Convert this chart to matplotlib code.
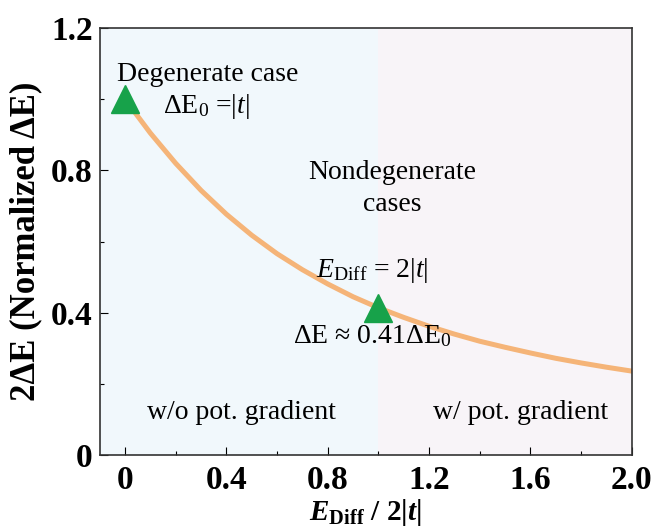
import matplotlib
matplotlib.use("Agg")
import matplotlib.pyplot as plt
from matplotlib.ticker import MultipleLocator

# ratio E_Diff / 2|t| and normalized gap
x_ratio = [0.0, 0.1, 0.2, 0.3, 0.4, 0.5, 0.6, 0.7, 0.8, 0.9, 1.0,
           1.1, 1.2, 1.3, 1.4, 1.5, 1.6, 1.7, 1.8, 1.9, 2.0]
gap_norm = [1.000, 0.905, 0.820, 0.744, 0.677, 0.618, 0.566, 0.521, 0.481, 0.445, 0.414,
            0.387, 0.362, 0.340, 0.320, 0.303, 0.287, 0.272, 0.259, 0.247, 0.236]

# highlighted points
mark_x = [0.0, 1.0]
mark_y = [1.0, 0.414]

# shaded regions
region_edges = [-0.1, 1.0, 2.0]
region_colors = ["#f1f8fc", "#f8f4f8"]

plt.rcParams["font.family"] = ["Liberation Serif", "DejaVu Serif"]
plt.rcParams["mathtext.fontset"] = "custom"
plt.rcParams["mathtext.rm"] = "Liberation Serif"
plt.rcParams["mathtext.it"] = "Liberation Serif:italic"
plt.rcParams["mathtext.bf"] = "Liberation Serif:bold"
plt.rcParams["mathtext.bfit"] = "Liberation Serif:bold:italic"

fig = plt.figure(figsize=(6.56, 5.31), dpi=100)
ax = fig.add_axes([0.152, 0.143, 0.811, 0.804])

for i, c in enumerate(region_colors):
    ax.axvspan(region_edges[i], region_edges[i + 1], color=c, lw=0, zorder=0)

ax.plot(x_ratio, gap_norm, color="#f5b478", lw=3.6, zorder=2)
ax.plot(mark_x, mark_y, ls="none", marker="^", ms=20, color="#17a24a",
        mec="#17a24a", zorder=3)

ax.set_xlim(-0.1, 2.0)
ax.set_ylim(0, 1.2)
ax.xaxis.set_minor_locator(MultipleLocator(0.2))
ax.yaxis.set_minor_locator(MultipleLocator(0.2))
ax.set_xticks([0, 0.4, 0.8, 1.2, 1.6, 2.0])
ax.set_xticklabels(["0", "0.4", "0.8", "1.2", "1.6", "2.0"])
ax.set_yticks([0, 0.4, 0.8, 1.2])
ax.set_yticklabels(["0", "0.4", "0.8", "1.2"])
ax.tick_params(which="both", direction="in", labelsize=24, width=0.8)
ax.tick_params(which="major", length=6)
ax.tick_params(which="minor", length=3)
ax.tick_params(axis="x", pad=7)
ax.tick_params(axis="y", pad=5)
for lab in ax.get_xticklabels() + ax.get_yticklabels():
    lab.set_fontweight("bold")
for s in ax.spines.values():
    s.set_linewidth(1.2)
    s.set_color("#333333")

ax.set_ylabel("2ΔE (Normalized ΔE)", fontsize=25, fontweight="bold", labelpad=6)
ax.set_xlabel(r"$\mathbfit{E}_{\mathbf{Diff}}$ / 2|$\mathbfit{t}$|", fontsize=21,
              fontweight="bold", labelpad=1)

fs = 20
ax.text(-0.03, 1.07, "Degenerate case", fontsize=fs, ha="left", va="center")
ax.text(0.32, 0.98, r"ΔE$_0$ =|$t$|", fontsize=fs, ha="center", va="center")
ax.text(1.055, 0.795, "Nondegenerate", fontsize=fs, ha="center", va="center")
ax.text(1.055, 0.705, "cases", fontsize=fs, ha="center", va="center")
ax.text(0.975, 0.52, r"$E_{\rm Diff}$ = 2|$t$|", fontsize=fs, ha="center", va="center")
ax.text(0.975, 0.335, r"ΔE ≈ 0.41ΔE$_0$", fontsize=fs, ha="center", va="center")
ax.text(0.46, 0.12, "w/o pot. gradient", fontsize=fs, ha="center", va="center")
ax.text(1.56, 0.12, "w/ pot. gradient", fontsize=fs, ha="center", va="center")

fig.savefig("out.png", dpi=100)
